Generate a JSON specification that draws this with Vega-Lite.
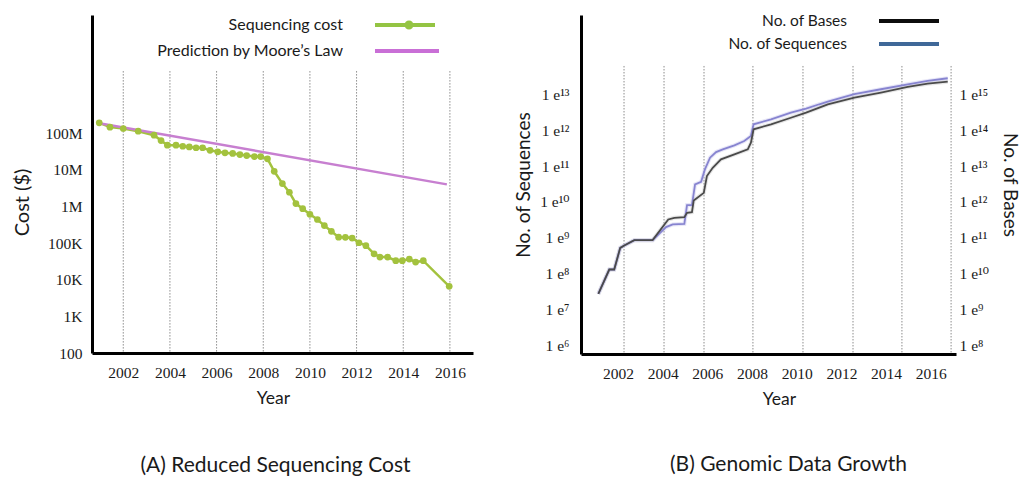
{
  "$schema": "https://vega.github.io/schema/vega-lite/v6.json",
  "background": "white",
  "padding": {"left": 12, "top": 11, "right": 5, "bottom": 0},
  "bounds": "flush",
  "spacing": 108,
  "resolve": {"scale": {"color": "independent"}, "legend": {"color": "independent"}},
  "config": {
    "view": {"stroke": null},
    "axis": {
      "labelFont": "Liberation Serif",
      "labelFontSize": 15.5,
      "labelColor": "#1a1a1a",
      "titleFont": "Lato",
      "titleFontWeight": "normal",
      "titleColor": "#1a1a1a",
      "ticks": false,
      "grid": false,
      "domainColor": "#000000",
      "domainWidth": 3
    },
    "legend": {"labelFont": "Lato", "labelColor": "#1a1a1a", "labelLimit": 300}
  },
  "datasets": {
    "costGrid": [
      {"year": 2002}, {"year": 2004}, {"year": 2006}, {"year": 2008},
      {"year": 2010}, {"year": 2012}, {"year": 2014}, {"year": 2016}
    ],
    "costSeries": [
      {"year": 2000.97, "cost": 191000000, "series": "Sequencing cost"},
      {"year": 2001.43, "cost": 146000000, "series": "Sequencing cost"},
      {"year": 2002.00, "cost": 134000000, "series": "Sequencing cost"},
      {"year": 2002.64, "cost": 113000000, "series": "Sequencing cost"},
      {"year": 2003.32, "cost": 88000000, "series": "Sequencing cost"},
      {"year": 2003.62, "cost": 63000000, "series": "Sequencing cost"},
      {"year": 2003.89, "cost": 47000000, "series": "Sequencing cost"},
      {"year": 2004.26, "cost": 47000000, "series": "Sequencing cost"},
      {"year": 2004.55, "cost": 44000000, "series": "Sequencing cost"},
      {"year": 2004.83, "cost": 42000000, "series": "Sequencing cost"},
      {"year": 2005.12, "cost": 40000000, "series": "Sequencing cost"},
      {"year": 2005.40, "cost": 40000000, "series": "Sequencing cost"},
      {"year": 2005.72, "cost": 34000000, "series": "Sequencing cost"},
      {"year": 2006.05, "cost": 31000000, "series": "Sequencing cost"},
      {"year": 2006.36, "cost": 29000000, "series": "Sequencing cost"},
      {"year": 2006.69, "cost": 28000000, "series": "Sequencing cost"},
      {"year": 2007.00, "cost": 26000000, "series": "Sequencing cost"},
      {"year": 2007.29, "cost": 24500000, "series": "Sequencing cost"},
      {"year": 2007.62, "cost": 23000000, "series": "Sequencing cost"},
      {"year": 2007.89, "cost": 23000000, "series": "Sequencing cost"},
      {"year": 2008.18, "cost": 20000000, "series": "Sequencing cost"},
      {"year": 2008.47, "cost": 9100000, "series": "Sequencing cost"},
      {"year": 2008.82, "cost": 4200000, "series": "Sequencing cost"},
      {"year": 2009.12, "cost": 2440000, "series": "Sequencing cost"},
      {"year": 2009.40, "cost": 1200000, "series": "Sequencing cost"},
      {"year": 2009.69, "cost": 870000, "series": "Sequencing cost"},
      {"year": 2010.00, "cost": 610000, "series": "Sequencing cost"},
      {"year": 2010.32, "cost": 440000, "series": "Sequencing cost"},
      {"year": 2010.62, "cost": 300000, "series": "Sequencing cost"},
      {"year": 2010.92, "cost": 210000, "series": "Sequencing cost"},
      {"year": 2011.23, "cost": 145000, "series": "Sequencing cost"},
      {"year": 2011.52, "cost": 144000, "series": "Sequencing cost"},
      {"year": 2011.81, "cost": 137000, "series": "Sequencing cost"},
      {"year": 2012.10, "cost": 102000, "series": "Sequencing cost"},
      {"year": 2012.40, "cost": 85000, "series": "Sequencing cost"},
      {"year": 2012.75, "cost": 51000, "series": "Sequencing cost"},
      {"year": 2013.00, "cost": 41500, "series": "Sequencing cost"},
      {"year": 2013.33, "cost": 41500, "series": "Sequencing cost"},
      {"year": 2013.68, "cost": 33000, "series": "Sequencing cost"},
      {"year": 2013.96, "cost": 33000, "series": "Sequencing cost"},
      {"year": 2014.26, "cost": 36600, "series": "Sequencing cost"},
      {"year": 2014.53, "cost": 30300, "series": "Sequencing cost"},
      {"year": 2014.86, "cost": 33000, "series": "Sequencing cost"},
      {"year": 2015.97, "cost": 6600, "series": "Sequencing cost"},
      {"year": 2000.97, "cost": 187000000, "series": "Prediction by Moore’s Law"},
      {"year": 2015.87, "cost": 4000000, "series": "Prediction by Moore’s Law"}
    ],
    "genomeGrid": [
      {"year": 2002.27}, {"year": 2004.06}, {"year": 2005.85}, {"year": 2008.04},
      {"year": 2010.28}, {"year": 2012.52}, {"year": 2014.71}, {"year": 2016.91}
    ],
    "sequences": [
      {"year": 2001.12, "count": 27100000, "series": "No. of Sequences"},
      {"year": 2001.61, "count": 130000000, "series": "No. of Sequences"},
      {"year": 2001.83, "count": 130000000, "series": "No. of Sequences"},
      {"year": 2002.10, "count": 522000000, "series": "No. of Sequences"},
      {"year": 2002.28, "count": 610000000, "series": "No. of Sequences"},
      {"year": 2002.73, "count": 857000000, "series": "No. of Sequences"},
      {"year": 2003.55, "count": 857000000, "series": "No. of Sequences"},
      {"year": 2004.15, "count": 1980000000, "series": "No. of Sequences"},
      {"year": 2004.45, "count": 2350000000, "series": "No. of Sequences"},
      {"year": 2004.97, "count": 2440000000, "series": "No. of Sequences"},
      {"year": 2005.09, "count": 8150000000, "series": "No. of Sequences"},
      {"year": 2005.31, "count": 8150000000, "series": "No. of Sequences"},
      {"year": 2005.45, "count": 30800000000, "series": "No. of Sequences"},
      {"year": 2005.72, "count": 36400000000, "series": "No. of Sequences"},
      {"year": 2005.89, "count": 80900000000, "series": "No. of Sequences"},
      {"year": 2006.12, "count": 171000000000, "series": "No. of Sequences"},
      {"year": 2006.39, "count": 246000000000, "series": "No. of Sequences"},
      {"year": 2006.69, "count": 292000000000, "series": "No. of Sequences"},
      {"year": 2007.21, "count": 378000000000, "series": "No. of Sequences"},
      {"year": 2007.65, "count": 499000000000, "series": "No. of Sequences"},
      {"year": 2007.95, "count": 689000000000, "series": "No. of Sequences"},
      {"year": 2008.07, "count": 1460000000000, "series": "No. of Sequences"},
      {"year": 2008.85, "count": 2010000000000, "series": "No. of Sequences"},
      {"year": 2009.74, "count": 3080000000000, "series": "No. of Sequences"},
      {"year": 2010.42, "count": 3990000000000, "series": "No. of Sequences"},
      {"year": 2011.01, "count": 5300000000000, "series": "No. of Sequences"},
      {"year": 2011.39, "count": 6250000000000, "series": "No. of Sequences"},
      {"year": 2012.58, "count": 10100000000000, "series": "No. of Sequences"},
      {"year": 2013.77, "count": 13900000000000, "series": "No. of Sequences"},
      {"year": 2014.97, "count": 19100000000000, "series": "No. of Sequences"},
      {"year": 2015.86, "count": 23700000000000, "series": "No. of Sequences"},
      {"year": 2016.76, "count": 28200000000000, "series": "No. of Sequences"}
    ],
    "bases": [
      {"year": 2001.12, "count": 2710000000, "series": "No. of Bases"},
      {"year": 2001.61, "count": 13000000000, "series": "No. of Bases"},
      {"year": 2001.83, "count": 13000000000, "series": "No. of Bases"},
      {"year": 2002.10, "count": 52200000000, "series": "No. of Bases"},
      {"year": 2002.28, "count": 61000000000, "series": "No. of Bases"},
      {"year": 2002.73, "count": 85700000000, "series": "No. of Bases"},
      {"year": 2003.55, "count": 85700000000, "series": "No. of Bases"},
      {"year": 2004.25, "count": 324000000000, "series": "No. of Bases"},
      {"year": 2004.52, "count": 360000000000, "series": "No. of Bases"},
      {"year": 2004.97, "count": 376000000000, "series": "No. of Bases"},
      {"year": 2005.09, "count": 495000000000, "series": "No. of Bases"},
      {"year": 2005.31, "count": 519000000000, "series": "No. of Bases"},
      {"year": 2005.39, "count": 1100000000000, "series": "No. of Bases"},
      {"year": 2005.84, "count": 1790000000000, "series": "No. of Bases"},
      {"year": 2005.98, "count": 5260000000000, "series": "No. of Bases"},
      {"year": 2006.24, "count": 8970000000000, "series": "No. of Bases"},
      {"year": 2006.61, "count": 15400000000000, "series": "No. of Bases"},
      {"year": 2007.21, "count": 21200000000000, "series": "No. of Bases"},
      {"year": 2007.81, "count": 29200000000000, "series": "No. of Bases"},
      {"year": 2007.95, "count": 44800000000000, "series": "No. of Bases"},
      {"year": 2008.07, "count": 106000000000000, "series": "No. of Bases"},
      {"year": 2008.85, "count": 146000000000000, "series": "No. of Bases"},
      {"year": 2009.74, "count": 223000000000000, "series": "No. of Bases"},
      {"year": 2010.42, "count": 308000000000000, "series": "No. of Bases"},
      {"year": 2011.01, "count": 426000000000000, "series": "No. of Bases"},
      {"year": 2011.39, "count": 528000000000000, "series": "No. of Bases"},
      {"year": 2012.58, "count": 809000000000000, "series": "No. of Bases"},
      {"year": 2013.77, "count": 1120000000000000, "series": "No. of Bases"},
      {"year": 2014.97, "count": 1610000000000000, "series": "No. of Bases"},
      {"year": 2015.86, "count": 1990000000000000, "series": "No. of Bases"},
      {"year": 2016.76, "count": 2260000000000000, "series": "No. of Bases"}
    ]
  },
  "hconcat": [
    {
      "width": 381,
      "height": 338,
      "title": {
        "text": "(A) Reduced Sequencing Cost",
        "orient": "bottom", "frame": "group", "anchor": "middle",
        "offset": 48, "dx": -7,
        "font": "Lato", "fontSize": 21, "fontWeight": "normal", "color": "#1a1a1a"
      },
      "layer": [
        {
          "data": {"name": "costGrid"},
          "mark": {"type": "rule", "color": "#8c8c8c", "strokeWidth": 1, "strokeDash": [1.5, 1.5]},
          "encoding": {
            "x": {
              "field": "year", "type": "quantitative",
              "scale": {"domain": [2000.66, 2016.99], "zero": false, "nice": false},
              "axis": {
                "values": [2002, 2004, 2006, 2008, 2010, 2012, 2014, 2016],
                "format": "d", "labelPadding": 12,
                "title": "Year", "titleFontSize": 17.5, "titleX": 181, "titleY": 36
              }
            },
            "y": {
              "datum": 4950000000, "type": "quantitative",
              "scale": {"type": "log", "domain": [100, 168000000000], "nice": false},
              "axis": {
                "values": [100, 1000, 10000, 100000, 1000000, 10000000, 100000000],
                "labelExpr": "datum.value >= 1e6 ? round(datum.value / 1e6) + 'M' : datum.value >= 1e3 ? round(datum.value / 1e3) + 'K' : round(datum.value) + ''",
                "labelPadding": 10,
                "title": "Cost ($)", "titleFontSize": 20, "titleX": -60, "titleY": 187
              }
            },
            "y2": {"datum": 100}
          }
        },
        {
          "data": {"name": "costSeries"},
          "mark": {"type": "line", "strokeWidth": 2.5},
          "encoding": {
            "x": {"field": "year", "type": "quantitative"},
            "y": {"field": "cost", "type": "quantitative"},
            "color": {
              "field": "series", "type": "nominal",
              "scale": {"domain": ["Sequencing cost", "Prediction by Moore’s Law"], "range": ["#a3c23e", "#c77fd0"]},
              "legend": {
                "title": null, "orient": "none", "legendX": 303, "legendY": 0,
                "direction": "vertical", "padding": 0, "symbolSize": 400, "rowPadding": 8,
                "symbolStrokeWidth": 4, "symbolType": "M-3,0H3",
                "labelAlign": "right", "labelOffset": -72, "labelFontSize": 16,
                "encode": {
                  "symbols": {
                    "update": {
                      "shape": [
                        {"test": "datum.value === 'Sequencing cost'", "value": "M-3,-0.2H3V0.2H-3Z M-0.05,0A0.45,0.45 0 1,1 0.85,0A0.45,0.45 0 1,1 -0.05,0Z"},
                        {"value": "M-3,-0.2H3.4V0.2H-3Z"}
                      ],
                      "fill": [
                        {"test": "datum.value === 'Sequencing cost'", "value": "#94c443"},
                        {"value": "#c96fd6"}
                      ],
                      "strokeWidth": {"value": 0}
                    }
                  }
                }
              }
            }
          }
        },
        {
          "data": {"name": "costSeries"},
          "transform": [{"filter": "datum.series === 'Sequencing cost'"}],
          "mark": {"type": "point", "filled": true, "size": 45, "color": "#a3c23e", "opacity": 1},
          "encoding": {
            "x": {"field": "year", "type": "quantitative"},
            "y": {"field": "cost", "type": "quantitative"}
          }
        }
      ]
    },
    {
      "width": 375,
      "height": 339,
      "title": {
        "text": "(B) Genomic Data Growth",
        "orient": "bottom", "frame": "group", "anchor": "middle",
        "offset": 46, "dx": 20,
        "font": "Lato", "fontSize": 21, "fontWeight": "normal", "color": "#1a1a1a"
      },
      "layer": [
        {
          "data": {"name": "genomeGrid"},
          "mark": {"type": "rule", "color": "#8c8c8c", "strokeWidth": 1, "strokeDash": [1.5, 1.5]},
          "encoding": {
            "x": {
              "field": "year", "type": "quantitative",
              "scale": {"domain": [2000.344, 2017.13], "zero": false, "nice": false},
              "axis": {
                "values": [2002, 2004, 2006, 2008, 2010, 2012, 2014, 2016],
                "format": "d", "labelPadding": 12,
                "title": "Year", "titleFontSize": 17.5, "titleX": 198, "titleY": 36
              }
            },
            "y": {
              "datum": 62000000000000, "type": "quantitative",
              "scale": {"type": "log", "domain": [571000, 1640000000000000], "nice": false},
              "axis": null
            },
            "y2": {"datum": 571000}
          }
        },
        {
          "data": {"name": "bases"},
          "mark": {"type": "line", "strokeWidth": 4, "color": "#b8b8b8", "opacity": 0.35},
          "encoding": {
            "x": {"field": "year", "type": "quantitative"},
            "y": {
              "field": "count", "type": "quantitative",
              "scale": {"type": "log", "domain": [57100000, 164000000000000000], "nice": false},
              "axis": null
            }
          }
        },
        {
          "data": {"name": "sequences"},
          "mark": {"type": "line", "strokeWidth": 4, "color": "#bab7e8", "opacity": 0.35},
          "encoding": {
            "x": {"field": "year", "type": "quantitative"},
            "y": {
              "field": "count", "type": "quantitative",
              "scale": {"type": "log", "domain": [571000, 1640000000000000], "nice": false},
              "axis": null
            }
          }
        },
        {
          "data": {"name": "sequences"},
          "mark": {"type": "line", "strokeWidth": 1.8},
          "encoding": {
            "x": {"field": "year", "type": "quantitative"},
            "y": {
              "field": "count", "type": "quantitative",
              "scale": {"type": "log", "domain": [571000, 1640000000000000], "nice": false},
              "axis": {
                "orient": "left",
                "values": [1e6, 1e7, 1e8, 1e9, 1e10, 1e11, 1e12, 1e13],
                "labelExpr": "'1 e' + (round(log(datum.value) / LN10) >= 10 ? '¹' + substring('⁰¹²³⁴⁵⁶⁷⁸⁹', round(log(datum.value) / LN10) - 10, round(log(datum.value) / LN10) - 9) : substring('⁰¹²³⁴⁵⁶⁷⁸⁹', round(log(datum.value) / LN10), round(log(datum.value) / LN10) + 1))",
                "labelFont": "Liberation Serif, DejaVu Serif",
                "labelPadding": 12,
                "title": "No. of Sequences", "titleFontSize": 19, "titleX": -48
              }
            },
            "color": {
              "field": "series", "type": "nominal",
              "scale": {"domain": ["No. of Bases", "No. of Sequences"], "range": ["#4a4a4a", "#8784d0"]},
              "legend": {
                "title": null, "orient": "none", "legendX": 318, "legendY": -4,
                "direction": "vertical", "padding": 0, "symbolSize": 400, "rowPadding": 4,
                "symbolStrokeWidth": 4, "symbolType": "M-3,0H3",
                "labelAlign": "right", "labelOffset": -72, "labelFontSize": 15.5,
                "encode": {
                  "symbols": {
                    "update": {
                      "shape": {"value": "M-3,-0.2H3V0.2H-3Z"},
                      "fill": [
                        {"test": "datum.value === 'No. of Bases'", "value": "#0d0d0d"},
                        {"value": "#3f6898"}
                      ],
                      "strokeWidth": {"value": 0}
                    }
                  }
                }
              }
            }
          }
        },
        {
          "data": {"name": "bases"},
          "mark": {"type": "line", "strokeWidth": 1.8},
          "encoding": {
            "x": {"field": "year", "type": "quantitative"},
            "y": {
              "field": "count", "type": "quantitative",
              "scale": {"type": "log", "domain": [57100000, 164000000000000000], "nice": false},
              "axis": {
                "orient": "right",
                "values": [1e8, 1e9, 1e10, 1e11, 1e12, 1e13, 1e14, 1e15],
                "labelExpr": "'1 e' + (round(log(datum.value) / LN10) >= 10 ? '¹' + substring('⁰¹²³⁴⁵⁶⁷⁸⁹', round(log(datum.value) / LN10) - 10, round(log(datum.value) / LN10) - 9) : substring('⁰¹²³⁴⁵⁶⁷⁸⁹', round(log(datum.value) / LN10), round(log(datum.value) / LN10) + 1))",
                "labelFont": "Liberation Serif, DejaVu Serif",
                "labelPadding": 3, "domain": false,
                "title": "No. of Bases", "titleFontSize": 19, "titleX": 43
              }
            },
            "color": {"field": "series", "type": "nominal"}
          }
        }
      ],
      "resolve": {"scale": {"y": "independent"}}
    }
  ]
}
